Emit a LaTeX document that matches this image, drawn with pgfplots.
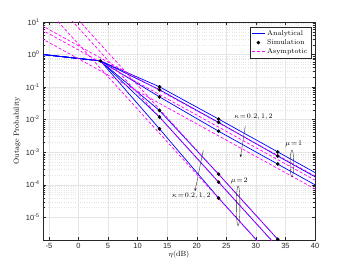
\documentclass[border=0pt]{standalone}
\usepackage{fontspec}
\usepackage{pgfplots}
\pgfplotsset{compat=1.18}
\usetikzlibrary{arrows.meta}
\newfontfamily\ticksf{Liberation Sans}
\definecolor{axgray}{gray}{0.15}
\definecolor{gridgray}{gray}{0.9}
\definecolor{mblue}{rgb}{0,0,1}
\definecolor{mmag}{rgb}{1,0,1}
\pgfplotsset{
  shortline/.style={legend image code/.code={\draw[##1] (0pt,0pt) -- (13pt,0pt);}},
  shortmark/.style={legend image code/.code={\draw[mark repeat=2,mark phase=2,##1] plot coordinates {(0pt,0pt) (6.5pt,0pt) (13pt,0pt)};}},
}
\begin{document}
\begin{tikzpicture}
\path[use as bounding box] (-43pt,-27pt) rectangle (309pt,240pt);
\begin{axis}[
  at={(0,0)}, anchor=south west,
  scale only axis, width=272pt, height=218pt,
  ymode=log, xmin=-6, xmax=40, ymin=2e-6, ymax=10,
  axis line style={axgray, line width=0.4pt},
  tick align=inside, major tick length=3pt, minor tick length=1.6pt,
  every tick/.style={axgray, line width=0.3pt},
  xtick={-5,0,5,10,15,20,25,30,35,40},
  xticklabels={-5,0,5,10,15,20,25,30,35,40},
  ytick={1e-5,1e-4,1e-3,1e-2,1e-1,1,10},
  yticklabels={10\textsuperscript{-5},10\textsuperscript{-4},10\textsuperscript{-3},10\textsuperscript{-2},10\textsuperscript{-1},10\textsuperscript{0},10\textsuperscript{1}},
  tick label style={font=\ticksf\fontsize{7.5}{9}\selectfont, text=axgray},
  xmajorgrids=true, ymajorgrids=true, yminorgrids=true, xminorgrids=false,
  minor x tick num=0,
  major grid style={gridgray, line width=0.4pt},
  minor grid style={gridgray, line width=0.3pt, dotted},
  xlabel={$\eta$(dB)},
  ylabel={Outage Probability},
  label style={font=\fontsize{7.5}{9}\selectfont},
  xlabel style={at={(axis description cs:0.5,-0.069)}, anchor=center},
  ylabel style={at={(axis description cs:-0.096,0.5)}, anchor=center},
  legend style={at={(0.985,0.977)}, anchor=north east, draw=axgray, line width=0.4pt,
    font=\fontsize{7}{8}\selectfont, inner sep=1.2pt, row sep=-1.5pt, fill=white},
  legend cell align=left,
]
% legend entries
\addlegendimage{mblue, line width=0.7pt, shortline}
\addlegendentry{Analytical}
\addlegendimage{only marks, mark=*, black, mark size=1.6pt, shortmark}
\addlegendentry{Simulation}
\addlegendimage{mmag, line width=0.7pt, dash pattern=on 3pt off 2pt, shortline}
\addlegendentry{Asymptotic}

% Analytical, mu = 1
\addplot[mblue, line width=0.7pt, forget plot] coordinates {(-6.3,1.014)(3.7,0.64)(13.7,0.102)(23.7,0.0104)(33.7,1.02e-3)(43.7,1.0e-4)};
\addplot[mblue, line width=0.7pt, forget plot] coordinates {(-6.3,1.014)(3.7,0.64)(13.7,0.083)(23.7,0.0082)(33.7,7.6e-4)(43.7,7.4e-5)};
\addplot[mblue, line width=0.7pt, forget plot] coordinates {(-6.3,1.014)(3.7,0.64)(13.7,0.050)(23.7,0.0044)(33.7,4.3e-4)(43.7,4.2e-5)};
% Analytical, mu = 2
\addplot[mblue, line width=0.7pt, forget plot] coordinates {(-6.3,1.014)(3.7,0.64)(13.7,0.019)(23.7,2.1e-4)(33.7,2.1e-6)(43.7,2.1e-8)};
\addplot[mblue, line width=0.7pt, forget plot] coordinates {(-6.3,1.014)(3.7,0.64)(13.7,0.012)(23.7,1.2e-4)(33.7,1.2e-6)(43.7,1.2e-8)};
\addplot[mblue, line width=0.7pt, forget plot] coordinates {(-6.3,1.014)(3.7,0.64)(13.7,0.0052)(23.7,3.9e-5)(33.7,3.8e-7)(43.7,3.8e-9)};

% Asymptotic, mu = 1
\addplot[mmag, line width=0.7pt, dash pattern=on 3pt off 2pt, forget plot] coordinates {(-6.3,7.94)(43.7,7.94e-5)};
\addplot[mmag, line width=0.7pt, dash pattern=on 3pt off 2pt, forget plot] coordinates {(-6.3,5.89)(43.7,5.89e-5)};
\addplot[mmag, line width=0.7pt, dash pattern=on 3pt off 2pt, forget plot] coordinates {(-6.3,3.16)(43.7,3.16e-5)};
% Asymptotic, mu = 2
\addplot[mmag, line width=0.7pt, dash pattern=on 3pt off 2pt, forget plot] coordinates {(-6.3,209)(43.7,2.09e-8)};
\addplot[mmag, line width=0.7pt, dash pattern=on 3pt off 2pt, forget plot] coordinates {(-6.3,120)(43.7,1.2e-8)};
\addplot[mmag, line width=0.7pt, dash pattern=on 3pt off 2pt, forget plot] coordinates {(-6.3,38)(43.7,3.8e-9)};

% Simulation
\addplot[only marks, mark=*, black, mark size=1.6pt, forget plot] coordinates {(3.7,0.64)(13.7,0.102)(13.7,0.083)(13.7,0.050)(13.7,0.019)(13.7,0.012)(13.7,0.0052)(23.7,0.0104)(23.7,0.0082)(23.7,0.0044)(23.7,2.1e-4)(23.7,1.2e-4)(23.7,3.9e-5)(33.7,1.02e-3)(33.7,7.6e-4)(33.7,4.3e-4)(33.7,2.1e-6)};

% annotations
\node[font=\fontsize{7.5}{9}\selectfont] at (axis cs:29.6,0.012) {$\kappa\!=\!0.2,1,2$};
\draw[axgray, line width=0.35pt, -{Stealth[length=3pt,width=2.2pt]}] (axis cs:28.2,0.0063) -- (axis cs:27.4,7e-4);
\node[font=\fontsize{7.5}{9}\selectfont] at (axis cs:19.1,4.4e-5) {$\kappa\!=\!0.2,1,2$};
\draw[axgray, line width=0.35pt, -{Stealth[length=3pt,width=2.2pt]}] (axis cs:21.1,1.15e-3) -- (axis cs:19.7,6.3e-5);
\node[font=\fontsize{7.5}{9}\selectfont] at (axis cs:36.4,1.77e-3) {$\mu\!=\!1$};
\draw[axgray, line width=0.35pt] (axis cs:36.1,4.43e-4) ellipse [x radius=1.8pt, y radius=13.5pt];
\node[font=\fontsize{7.5}{9}\selectfont] at (axis cs:27.2,1.3e-4) {$\mu\!=\!2$};
\draw[axgray, line width=0.35pt] (axis cs:27,2.24e-5) ellipse [x radius=1.8pt, y radius=20pt];
\end{axis}
\end{tikzpicture}
\end{document}
